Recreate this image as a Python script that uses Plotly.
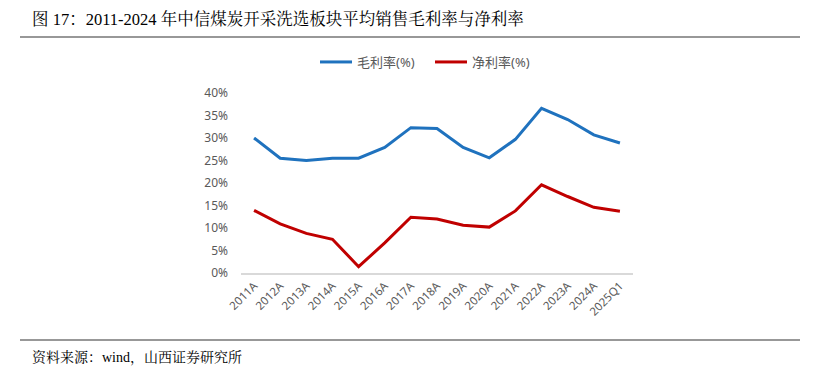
import plotly.graph_objects as go

categories = ["2011A", "2012A", "2013A", "2014A", "2015A", "2016A", "2017A", "2018A",
              "2019A", "2020A", "2021A", "2022A", "2023A", "2024A", "2025Q1"]
gross_margin = [30.0, 25.5, 25.0, 25.5, 25.5, 27.9, 32.3, 32.1, 27.9, 25.6, 29.7, 36.6, 34.1, 30.7, 28.9]
net_margin = [13.9, 10.9, 8.8, 7.5, 1.4, 6.7, 12.4, 12.0, 10.6, 10.2, 13.8, 19.6, 17.0, 14.6, 13.7]
y_ticks = [0, 5, 10, 15, 20, 25, 30, 35, 40]

# page body has an 8px default margin; work in reference pixels and offset
OFF = 8
W, H = 818 - OFF, 371 - OFF
L, R, T, B = 241 - OFF, 633 - OFF, 93 - OFF, 273 - OFF

def px(x):
    return (x - OFF - L) / (R - L)

def pyy(y):
    return (B - (y - OFF)) / (B - T)

fig = go.Figure()
fig.add_trace(go.Scatter(x=categories, y=[v / 100 for v in gross_margin], mode="lines",
                         name="毛利率(%)", line=dict(color="#1f72be", width=3)))
fig.add_trace(go.Scatter(x=categories, y=[v / 100 for v in net_margin], mode="lines",
                         name="净利率(%)", line=dict(color="#c00000", width=3)))

tickfont = dict(family="Noto Sans, Noto Sans CJK SC", size=12, color="#595959")

fig.update_layout(
    width=W, height=H,
    margin=dict(l=L, r=W - R, t=T, b=H - B, pad=0),
    paper_bgcolor="white", plot_bgcolor="white",
    showlegend=True,
    legend=dict(orientation="h", x=px(430), y=pyy(62), xanchor="center", yanchor="middle",
                font=dict(family="Noto Sans, Noto Sans CJK SC", size=13, color="#595959"),
                itemwidth=32, tracegroupgap=0, entrywidth=68),
    xaxis=dict(type="category", range=[-0.5, 14.5], tickangle=-45, tickfont=dict(tickfont, size=11.5),
               showgrid=False, showline=True, linecolor="#d9d9d9", linewidth=1.5,
               ticks="", zeroline=False),
    yaxis=dict(range=[0, 0.4], tickvals=[v / 100 for v in y_ticks],
               ticktext=[f"{v}%" for v in y_ticks], tickfont=tickfont,
               showgrid=False, showline=False, zeroline=False, ticks="", ticklabelstandoff=12),
    font=dict(family="Noto Sans CJK SC"),
)

serif = "Times New Roman, Liberation Serif, Noto Serif CJK SC, Noto Sans CJK SC"
fig.add_annotation(text="图 17：2011-2024 年中信煤炭开采洗选板块平均销售毛利率与净利率",
                   xref="paper", yref="paper", x=px(30), y=pyy(19), xanchor="left", yanchor="middle",
                   showarrow=False, font=dict(family=serif, size=16.5, color="#000000"))
fig.add_annotation(text="资料来源：wind，山西证券研究所",
                   xref="paper", yref="paper", x=px(30), y=pyy(357), xanchor="left", yanchor="middle",
                   showarrow=False, font=dict(family=serif, size=14, color="#000000"))
fig.add_shape(type="line", xref="paper", yref="paper", x0=px(20), x1=px(800), y0=pyy(37), y1=pyy(37),
              line=dict(color="#333333", width=1.2))
fig.add_shape(type="line", xref="paper", yref="paper", x0=px(20), x1=px(800), y0=pyy(340), y1=pyy(340),
              line=dict(color="#333333", width=1.2))

fig.write_html("out.html")
